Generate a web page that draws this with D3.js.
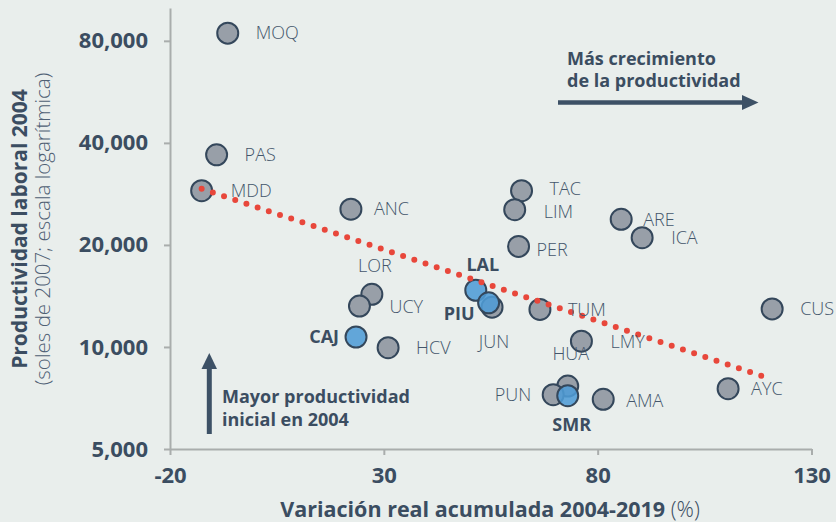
<!DOCTYPE html>
<html><head><meta charset="utf-8">
<script src="https://cdn.jsdelivr.net/npm/d3@7"></script>
<style>
body{margin:0;background:#e9eeec;}
svg{display:block;font-family:'Open Sans',sans-serif;}
</style>
</head><body>
<svg id="c" width="836" height="522"></svg>
<script>
// ---- data ----
const regions      = ["MOQ","PAS","MDD","ANC","TAC","LIM","ARE","ICA","PER","LOR","UCY","CAJ","HCV","LAL","PIU","JUN","TUM","LMY","HUA","CUS","AYC","AMA","PUN","SMR"];
const growth       = [-6.5, -9.1, -12.6, 22.3, 62.2, 60.6, 85.5, 90.4, 61.5, 27.2, 24.3, 23.5, 31.0, 51.5, 54.5, 55.3, 66.5, 76.2, 73.0, 120.8, 110.5, 81.3, 69.6, 73.0];
const productivity = [84300, 36900, 28900, 25500, 28900, 25400, 23800, 21000, 19800, 14300, 13200, 10700, 9950, 14700, 13500, 13100, 12900, 10400, 7670, 12950, 7530, 7010, 7230, 7180];
const highlighted  = ["CAJ","LAL","PIU","SMR"];
const xTicks = [-20, 30, 80, 130];
const yTicks = [5000, 10000, 20000, 40000, 80000];
const trendX = [-12.6, 120.4];
const trendY = [29300, 8060];

// ---- layout (label offsets: dx, dy, anchor) ----
const labelPos = {
  MOQ:[28,0,"start"], PAS:[28,0,"start"], MDD:[29,0,"start"], ANC:[23,0,"start"],
  TAC:[28,-2,"start"], LIM:[29,2,"start"], ARE:[22,0,"start"], ICA:[29,0,"start"],
  PER:[18,3,"start"], LOR:[3,-29,"middle"], UCY:[30,1,"start"], CAJ:[-17,0,"end"],
  HCV:[28,0,"start"], LAL:[7,-26,"middle"], PIU:[-14,11,"end"], JUN:[2,34,"middle"],
  TUM:[28,0,"start"], LMY:[29,1,"start"], HUA:[3,-32,"middle"], CUS:[28,0,"start"],
  AYC:[23,0,"start"], AMA:[23,1,"start"], PUN:[-22,0,"end"], SMR:[4,29,"middle"]
};
const TEXT = "#3b4d61";
const data = regions.map((r,i)=>({r, x:growth[i], y:productivity[i], hi: highlighted.includes(r)}));

const svg = d3.select("#c");
svg.append("rect").attr("width",836).attr("height",522).attr("fill","#e9eeec");

const x = d3.scaleLinear().domain([-20,130]).range([170,811.5]);
const y = d3.scaleLog().domain([5000,100000]).range([449,8]);

// axes
const gx = svg.append("g").attr("transform","translate(0,449)")
  .call(d3.axisBottom(x).tickValues(xTicks).tickSize(6).tickSizeOuter(0).tickPadding(12).tickFormat(d=>String(d)));
const gy = svg.append("g").attr("transform","translate(170,0)")
  .call(d3.axisLeft(y).tickValues(yTicks).tickSize(6).tickSizeOuter(0).tickPadding(16).tickFormat(d3.format(",")));
[gx,gy].forEach(g=>{
  g.select(".domain").attr("stroke","#a9adac").attr("stroke-width",2);
  g.selectAll(".tick line").attr("stroke","#a9adac").attr("stroke-width",2);
  g.selectAll(".tick text").attr("fill",TEXT).attr("font-size",22).attr("font-weight",700).attr("font-family","'Open Sans',sans-serif");
});

// axis titles
const xt = svg.append("text").attr("x",490).attr("y",517).attr("text-anchor","middle")
  .attr("font-size",21.5).attr("fill",TEXT);
xt.append("tspan").attr("font-weight",700).text("Variación real acumulada 2004-2019 ");
xt.append("tspan").attr("font-weight",300).text("(%)");

const yt = svg.append("g").attr("transform","translate(0,229) rotate(-90)");
yt.append("text").attr("x",0).attr("y",27).attr("text-anchor","middle")
  .attr("font-size",21).attr("font-weight",700).attr("fill",TEXT).text("Productividad laboral 2004");
yt.append("text").attr("x",0).attr("y",50).attr("text-anchor","middle")
  .attr("font-size",20.5).attr("font-weight",300).attr("fill","#4f6074").text("(soles de 2007; escala logarítmica)");

// points
const pts = data.filter(d=>!d.hi).concat(data.filter(d=>d.hi));
svg.append("g").selectAll("circle").data(pts).join("circle")
  .attr("cx",d=>x(d.x)).attr("cy",d=>y(d.y)).attr("r",10.5)
  .attr("fill",d=>d.hi?"#4f9cd6":"#989fa8")
  .attr("fill-opacity",d=>d.hi?0.88:1)
  .attr("stroke","#34475b").attr("stroke-width",2);

// trend
svg.append("path")
  .attr("d", d3.line().x(d=>x(d[0])).y(d=>y(d[1]))(trendX.map((v,i)=>[v,trendY[i]])))
  .attr("fill","none").attr("stroke","#e8473b").attr("stroke-width",6)
  .attr("stroke-linecap","round").attr("stroke-dasharray","0 11.8");

// labels
svg.append("g").selectAll("text").data(data).join("text")
  .attr("x",d=>x(d.x)+labelPos[d.r][0]).attr("y",d=>y(d.y)+labelPos[d.r][1])
  .attr("dy","0.35em").attr("text-anchor",d=>labelPos[d.r][2])
  .attr("font-size",18).attr("font-weight",d=>d.hi?700:300)
  .attr("fill",d=>d.hi?TEXT:"#44566b").text(d=>d.r);

// annotations
const AC = "#3d5166";
const a1 = svg.append("g");
a1.append("text").attr("x",567).attr("y",65).attr("font-size",18).attr("font-weight",700).attr("fill",TEXT).text("Más crecimiento");
a1.append("text").attr("x",567).attr("y",87).attr("font-size",18).attr("font-weight",700).attr("fill",TEXT).text("de la productividad");
a1.append("line").attr("x1",558).attr("x2",744).attr("y1",102.5).attr("y2",102.5).attr("stroke",AC).attr("stroke-width",4.5);
a1.append("path").attr("d","M742,95 L758.5,102.5 L742,110 Z").attr("fill",AC);

const a2 = svg.append("g");
a2.append("line").attr("x1",209.3).attr("x2",209.3).attr("y1",434).attr("y2",367).attr("stroke",AC).attr("stroke-width",5);
a2.append("path").attr("d","M201.5,369 L209.3,353 L217,369 Z").attr("fill",AC);
a2.append("text").attr("x",222).attr("y",403).attr("font-size",18).attr("font-weight",700).attr("fill",TEXT).text("Mayor productividad");
a2.append("text").attr("x",222).attr("y",426).attr("font-size",18).attr("font-weight",700).attr("fill",TEXT).text("inicial en 2004");
</script>
</body></html>
